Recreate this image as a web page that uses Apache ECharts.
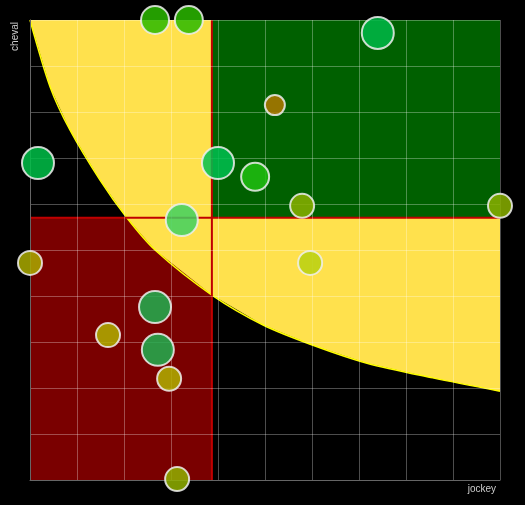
<!DOCTYPE html>
<html>
<head>
<meta charset="utf-8">
<script src="https://cdn.jsdelivr.net/npm/echarts@6/dist/echarts.min.js"></script>
<style>html,body{margin:0;padding:0;background:#000;}#main{width:525px;height:505px;}</style>
</head>
<body>
<div id="main"></div>
<script>
// limites des zones
var seuilJockey = 3.87;
var seuilCheval = 5.7;
// courbe
var courbeX = [0, 0.43, 0.85, 1.49, 2.06, 2.66, 3.87, 4.96, 6.02, 7.17, 8.57, 10];
var courbeY = [10, 8.54, 7.61, 6.52, 5.70, 5.0, 4.02, 3.37, 2.93, 2.54, 2.22, 1.93];
// points
var jockey = [2.66, 3.38, 7.40, 5.21, 0.17, 4.00, 4.79, 5.79, 10.0, 3.23, 0.0, 5.96, 2.66, 1.66, 2.72, 2.96, 3.13];
var cheval = [10.0, 10.0, 9.72, 8.15, 6.89, 6.89, 6.59, 5.96, 5.96, 5.65, 4.72, 4.72, 3.76, 3.15, 2.83, 2.20, 0.02];
var tailles = [28, 28, 32, 20, 32, 32, 28, 24, 24, 32, 24, 24, 32, 24, 32, 24, 24];
var couleurs = ['#2ab800', '#2ab800', '#00b848', '#b07800', '#00c048', '#00c050', '#20c010', '#8ab000', '#8ab000',
	'#40d060', '#aaaa00', '#b8d010', '#20b050', '#b0b000', '#20b050', '#b0b000', '#90b000'];

var myChart = echarts.init(document.getElementById('main'));

function rect(color, x0, y0, x1, y1) {
	return function(params, api) {
		var a = api.coord([x0, y1]), b = api.coord([x1, y0]);
		return {type: 'rect', shape: {x: a[0], y: a[1], width: b[0] - a[0], height: b[1] - a[1]}, style: {fill: color}};
	};
}

var pts = [];
for (var i = 0; i < jockey.length; i++) {
	pts.push({value: [jockey[i], cheval[i]], symbolSize: tailles[i], itemStyle: {color: couleurs[i]}});
}

myChart.setOption({
	backgroundColor: '#000',
	animation: false,
	grid: {left: 30, right: 25, top: 20, bottom: 25},
	xAxis: {
		type: 'value', min: 0, max: 10, interval: 1, z: 5,
		axisLabel: {show: false}, axisTick: {show: false},
		axisLine: {lineStyle: {color: '#666'}},
		splitLine: {lineStyle: {color: 'rgba(255,255,255,0.3)'}}
	},
	yAxis: {
		type: 'value', min: 0, max: 10, interval: 1, z: 5,
		axisLabel: {show: false}, axisTick: {show: false},
		axisLine: {lineStyle: {color: '#666'}},
		splitLine: {lineStyle: {color: 'rgba(255,255,255,0.3)'}}
	},
	graphic: [
		{type: 'text', left: 10, top: 22, rotation: Math.PI / 2, style: {text: 'cheval', fill: '#ccc', font: '10px sans-serif'}, originX: 0, originY: 0},
		{type: 'text', right: 29, top: 484, style: {text: 'jockey', fill: '#ccc', font: '10px sans-serif'}}
	],
	series: [
		{type: 'custom', z: 1, data: [0], renderItem: rect('#7a0000', 0, 0, seuilJockey, seuilCheval)},
		{type: 'custom', z: 2, data: [0], renderItem: function(params, api) {
			var p = [];
			for (var k = 0; k < courbeX.length; k++) p.push(api.coord([courbeX[k], courbeY[k]]));
			var poly = p.concat([api.coord([10, 10])]);
			return {type: 'group', children: [
				{type: 'polygon', shape: {points: poly}, style: {fill: '#ffe14d'}},
				{type: 'polyline', shape: {points: p, smooth: 0.3}, style: {stroke: '#ffff00', lineWidth: 1.5, fill: null}}
			]};
		}},
		{type: 'custom', z: 3, data: [0], renderItem: rect('#006000', seuilJockey, seuilCheval, 10, 10)},
		{type: 'custom', z: 4, data: [0], renderItem: function(params, api) {
			var a = api.coord([seuilJockey, 10]), b = api.coord([seuilJockey, 0]);
			var c = api.coord([0, seuilCheval]), d = api.coord([10, seuilCheval]);
			return {type: 'group', children: [
				{type: 'line', shape: {x1: a[0], y1: a[1], x2: b[0], y2: b[1]}, style: {stroke: '#c00000', lineWidth: 2}},
				{type: 'line', shape: {x1: c[0], y1: c[1], x2: d[0], y2: d[1]}, style: {stroke: '#c00000', lineWidth: 2}}
			]};
		}},
		{type: 'scatter', z: 10, clip: false, data: pts,
			itemStyle: {opacity: 0.85, borderColor: '#eee', borderWidth: 2}}
	]
});
</script>
</body>
</html>
